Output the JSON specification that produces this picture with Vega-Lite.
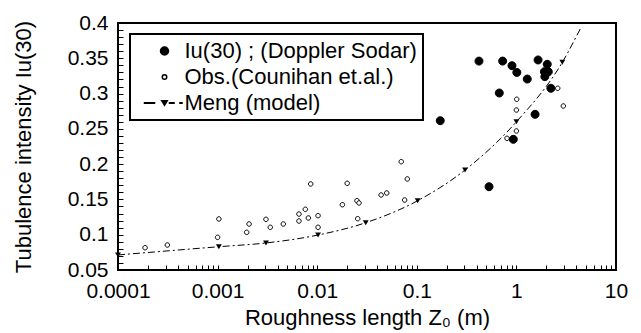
{
  "$schema": "https://vega.github.io/schema/vega-lite/v6.json",
  "width": 498,
  "height": 247,
  "autosize": "none",
  "padding": {"left": 118, "top": 23, "right": 25, "bottom": 63},
  "background": "white",
  "config": {
    "view": {"stroke": "black", "strokeWidth": 2},
    "axis": {
      "domain": false,
      "grid": false,
      "labelFont": "Liberation Sans",
      "labelFontSize": 21,
      "labelColor": "black",
      "titleFont": "Liberation Sans",
      "titleFontSize": 22,
      "titleFontWeight": "normal",
      "titleColor": "black",
      "tickColor": "black",
      "tickWidth": 1,
      "labelFlush": false,
      "labelOverlap": false
    },
    "legend": {
      "padding": 6,
      "strokeColor": "black",
      "strokeWidth": 2,
      "fillColor": "white",
      "labelFont": "Liberation Sans",
      "labelFontSize": 22,
      "labelColor": "black",
      "labelLimit": 400,
      "symbolOffset": 17.5,
      "labelOffset": 9,
      "rowPadding": 4
    }
  },
  "datasets": {
    "sodar": [
      {"z0": 0.421, "iu": 0.346}, {"z0": 0.728, "iu": 0.346}, {"z0": 0.903, "iu": 0.3395},
      {"z0": 1.01, "iu": 0.330}, {"z0": 1.285, "iu": 0.3206}, {"z0": 1.65, "iu": 0.3476},
      {"z0": 2.04, "iu": 0.3415}, {"z0": 1.91, "iu": 0.331}, {"z0": 2.09, "iu": 0.331},
      {"z0": 1.93, "iu": 0.324}, {"z0": 2.22, "iu": 0.3075}, {"z0": 0.673, "iu": 0.3008},
      {"z0": 1.54, "iu": 0.2706}, {"z0": 0.172, "iu": 0.2616}, {"z0": 0.931, "iu": 0.2352},
      {"z0": 0.531, "iu": 0.168}
    ],
    "counihan": [
      {"z0": 0.000187, "iu": 0.0816}, {"z0": 0.000313, "iu": 0.0854}, {"z0": 0.00103, "iu": 0.1223},
      {"z0": 0.001, "iu": 0.0963}, {"z0": 0.00196, "iu": 0.1034}, {"z0": 0.00207, "iu": 0.1152},
      {"z0": 0.00306, "iu": 0.1218}, {"z0": 0.00338, "iu": 0.1105}, {"z0": 0.00457, "iu": 0.1152},
      {"z0": 0.00656, "iu": 0.1293}, {"z0": 0.00656, "iu": 0.1194}, {"z0": 0.0076, "iu": 0.136},
      {"z0": 0.00815, "iu": 0.1237}, {"z0": 0.0086, "iu": 0.1719}, {"z0": 0.0102, "iu": 0.127},
      {"z0": 0.0102, "iu": 0.1105}, {"z0": 0.0179, "iu": 0.1425}, {"z0": 0.02, "iu": 0.1728},
      {"z0": 0.0251, "iu": 0.1482}, {"z0": 0.0263, "iu": 0.145}, {"z0": 0.0255, "iu": 0.1227},
      {"z0": 0.0438, "iu": 0.1563}, {"z0": 0.0499, "iu": 0.1591}, {"z0": 0.0698, "iu": 0.2035},
      {"z0": 0.0803, "iu": 0.179}, {"z0": 0.0755, "iu": 0.1492}, {"z0": 1.007, "iu": 0.2919},
      {"z0": 1.0, "iu": 0.2767}, {"z0": 1.0, "iu": 0.247}, {"z0": 0.805, "iu": 0.2366},
      {"z0": 2.6, "iu": 0.3075}, {"z0": 2.96, "iu": 0.2824}
    ],
    "mengMarkers": [
      {"z0": 0.0001, "iu": 0.0713}, {"z0": 0.00103, "iu": 0.083}, {"z0": 0.00306, "iu": 0.0883},
      {"z0": 0.0102, "iu": 0.0996}, {"z0": 0.0307, "iu": 0.117}, {"z0": 0.102, "iu": 0.1482},
      {"z0": 0.305, "iu": 0.1917}, {"z0": 1.0, "iu": 0.26}, {"z0": 2.89, "iu": 0.3443}
    ],
    "mengCurve": [
      {"z0": 0.0001, "iu": 0.0713}, {"z0": 0.00103, "iu": 0.083}, {"z0": 0.00306, "iu": 0.0883},
      {"z0": 0.0102, "iu": 0.0996}, {"z0": 0.0307, "iu": 0.117}, {"z0": 0.102, "iu": 0.1482},
      {"z0": 0.305, "iu": 0.1917}, {"z0": 1.0, "iu": 0.26}, {"z0": 2.89, "iu": 0.3443},
      {"z0": 4.5, "iu": 0.395}
    ]
  },
  "layer": [
    {
      "data": {"name": "mengCurve"},
      "mark": {"type": "line", "color": "black", "strokeWidth": 1, "strokeDash": [7, 3, 2, 3], "interpolate": "monotone"},
      "encoding": {
        "x": {
          "field": "z0", "type": "quantitative",
          "scale": {"type": "log", "domain": [0.0001, 10], "nice": false},
          "axis": {
            "orient": "bottom",
            "title": "Roughness length Z₀ (m)",
            "titlePadding": 6,
            "values": [0.0001,0.0002,0.0003,0.0004,0.0005,0.0006,0.0007,0.0008,0.0009,0.001,0.002,0.003,0.004,0.005,0.006,0.007,0.008,0.009,0.01,0.02,0.03,0.04,0.05,0.06,0.07,0.08,0.09,0.1,0.2,0.3,0.4,0.5,0.6,0.7,0.8,0.9,1,2,3,4,5,6,7,8,9,10],
            "tickSize": -5,
            "labelPadding": 15,
            "labelOverlap": false,
            "labelExpr": "abs(log(datum.value)/LN10 - round(log(datum.value)/LN10)) < 1e-6 ? format(datum.value, '~g') : ''"
          }
        },
        "y": {
          "field": "iu", "type": "quantitative",
          "scale": {"domain": [0.05, 0.4], "zero": false, "nice": false},
          "axis": {
            "orient": "left",
            "title": "Tubulence intensity Iu(30)",
            "titlePadding": 32,
            "values": [0.05,0.06,0.07,0.08,0.09,0.1,0.11,0.12,0.13,0.14,0.15,0.16,0.17,0.18,0.19,0.2,0.21,0.22,0.23,0.24,0.25,0.26,0.27,0.28,0.29,0.3,0.31,0.32,0.33,0.34,0.35,0.36,0.37,0.38,0.39,0.4],
            "tickSize": -5,
            "labelPadding": 15,
            "labelOverlap": false,
            "labelExpr": "abs(datum.value*20 - round(datum.value*20)) < 1e-6 ? format(datum.value, '~g') : ''"
          }
        }
      }
    },
    {
      "data": {"name": "mengMarkers"},
      "mark": {"type": "point", "shape": "triangle-down", "filled": true, "color": "black", "size": 34, "opacity": 1},
      "encoding": {
        "x": {
          "field": "z0", "type": "quantitative",
          "axis": {
            "orient": "bottom",
            "title": "Roughness length Z₀ (m)",
            "titlePadding": 6,
            "values": [0.0001,0.0002,0.0003,0.0004,0.0005,0.0006,0.0007,0.0008,0.0009,0.001,0.002,0.003,0.004,0.005,0.006,0.007,0.008,0.009,0.01,0.02,0.03,0.04,0.05,0.06,0.07,0.08,0.09,0.1,0.2,0.3,0.4,0.5,0.6,0.7,0.8,0.9,1,2,3,4,5,6,7,8,9,10],
            "tickSize": -5,
            "labelPadding": 15,
            "labelOverlap": false,
            "labelExpr": "abs(log(datum.value)/LN10 - round(log(datum.value)/LN10)) < 1e-6 ? format(datum.value, '~g') : ''"
          }
        },
        "y": {
          "field": "iu", "type": "quantitative",
          "axis": {
            "orient": "left",
            "title": "Tubulence intensity Iu(30)",
            "titlePadding": 32,
            "values": [0.05,0.06,0.07,0.08,0.09,0.1,0.11,0.12,0.13,0.14,0.15,0.16,0.17,0.18,0.19,0.2,0.21,0.22,0.23,0.24,0.25,0.26,0.27,0.28,0.29,0.3,0.31,0.32,0.33,0.34,0.35,0.36,0.37,0.38,0.39,0.4],
            "tickSize": -5,
            "labelPadding": 15,
            "labelOverlap": false,
            "labelExpr": "abs(datum.value*20 - round(datum.value*20)) < 1e-6 ? format(datum.value, '~g') : ''"
          }
        }
      }
    },
    {
      "data": {"name": "counihan"},
      "transform": [{"calculate": "'Obs.(Counihan et.al.)'", "as": "series"}],
      "mark": {"type": "point", "filled": true, "strokeWidth": 1, "size": 100, "opacity": 1},
      "encoding": {
        "x": {
          "field": "z0", "type": "quantitative",
          "axis": {
            "orient": "bottom",
            "title": "Roughness length Z₀ (m)",
            "titlePadding": 6,
            "values": [0.0001,0.0002,0.0003,0.0004,0.0005,0.0006,0.0007,0.0008,0.0009,0.001,0.002,0.003,0.004,0.005,0.006,0.007,0.008,0.009,0.01,0.02,0.03,0.04,0.05,0.06,0.07,0.08,0.09,0.1,0.2,0.3,0.4,0.5,0.6,0.7,0.8,0.9,1,2,3,4,5,6,7,8,9,10],
            "tickSize": -5,
            "labelPadding": 15,
            "labelOverlap": false,
            "labelExpr": "abs(log(datum.value)/LN10 - round(log(datum.value)/LN10)) < 1e-6 ? format(datum.value, '~g') : ''"
          }
        },
        "y": {
          "field": "iu", "type": "quantitative",
          "axis": {
            "orient": "left",
            "title": "Tubulence intensity Iu(30)",
            "titlePadding": 32,
            "values": [0.05,0.06,0.07,0.08,0.09,0.1,0.11,0.12,0.13,0.14,0.15,0.16,0.17,0.18,0.19,0.2,0.21,0.22,0.23,0.24,0.25,0.26,0.27,0.28,0.29,0.3,0.31,0.32,0.33,0.34,0.35,0.36,0.37,0.38,0.39,0.4],
            "tickSize": -5,
            "labelPadding": 15,
            "labelOverlap": false,
            "labelExpr": "abs(datum.value*20 - round(datum.value*20)) < 1e-6 ? format(datum.value, '~g') : ''"
          }
        },
        "shape": {
          "field": "series", "type": "nominal",
          "scale": {
            "domain": ["Iu(30) ; (Doppler Sodar)", "Obs.(Counihan et.al.)", "Meng (model)"],
            "range": [
              "M-0.8,0A0.8,0.8,0,1,0,0.8,0A0.8,0.8,0,1,0,-0.8,0Z",
              "M-0.45,0A0.45,0.45,0,1,0,0.45,0A0.45,0.45,0,1,0,-0.45,0Z",
              "M-4,-0.05H-2V0.05H-4Z M-0.55,-0.45H0.55L0,0.45Z M1,-0.05H1.9V0.05H1Z M3.1,-0.05H3.5V0.05H3.1Z"
            ]
          },
          "legend": {"orient": "none", "legendX": 12, "legendY": 11, "title": null}
        },
        "fill": {
          "field": "series", "type": "nominal",
          "scale": {
            "domain": ["Iu(30) ; (Doppler Sodar)", "Obs.(Counihan et.al.)", "Meng (model)"],
            "range": ["black", "white", "black"]
          },
          "legend": {"orient": "none", "legendX": 12, "legendY": 11, "title": null}
        },
        "stroke": {
          "field": "series", "type": "nominal",
          "scale": {
            "domain": ["Iu(30) ; (Doppler Sodar)", "Obs.(Counihan et.al.)", "Meng (model)"],
            "range": ["black", "black", "black"]
          },
          "legend": {"orient": "none", "legendX": 12, "legendY": 11, "title": null}
        }
      }
    },
    {
      "data": {"name": "sodar"},
      "transform": [{"calculate": "'Iu(30) ; (Doppler Sodar)'", "as": "series"}],
      "mark": {"type": "point", "filled": true, "strokeWidth": 1, "size": 100, "opacity": 1},
      "encoding": {
        "x": {
          "field": "z0", "type": "quantitative",
          "axis": {
            "orient": "bottom",
            "title": "Roughness length Z₀ (m)",
            "titlePadding": 6,
            "values": [0.0001,0.0002,0.0003,0.0004,0.0005,0.0006,0.0007,0.0008,0.0009,0.001,0.002,0.003,0.004,0.005,0.006,0.007,0.008,0.009,0.01,0.02,0.03,0.04,0.05,0.06,0.07,0.08,0.09,0.1,0.2,0.3,0.4,0.5,0.6,0.7,0.8,0.9,1,2,3,4,5,6,7,8,9,10],
            "tickSize": -5,
            "labelPadding": 15,
            "labelOverlap": false,
            "labelExpr": "abs(log(datum.value)/LN10 - round(log(datum.value)/LN10)) < 1e-6 ? format(datum.value, '~g') : ''"
          }
        },
        "y": {
          "field": "iu", "type": "quantitative",
          "axis": {
            "orient": "left",
            "title": "Tubulence intensity Iu(30)",
            "titlePadding": 32,
            "values": [0.05,0.06,0.07,0.08,0.09,0.1,0.11,0.12,0.13,0.14,0.15,0.16,0.17,0.18,0.19,0.2,0.21,0.22,0.23,0.24,0.25,0.26,0.27,0.28,0.29,0.3,0.31,0.32,0.33,0.34,0.35,0.36,0.37,0.38,0.39,0.4],
            "tickSize": -5,
            "labelPadding": 15,
            "labelOverlap": false,
            "labelExpr": "abs(datum.value*20 - round(datum.value*20)) < 1e-6 ? format(datum.value, '~g') : ''"
          }
        },
        "shape": {"field": "series", "type": "nominal", "legend": {"orient": "none", "legendX": 12, "legendY": 11, "title": null}},
        "fill": {"field": "series", "type": "nominal", "legend": {"orient": "none", "legendX": 12, "legendY": 11, "title": null}},
        "stroke": {"field": "series", "type": "nominal", "legend": {"orient": "none", "legendX": 12, "legendY": 11, "title": null}}
      }
    }
  ]
}
